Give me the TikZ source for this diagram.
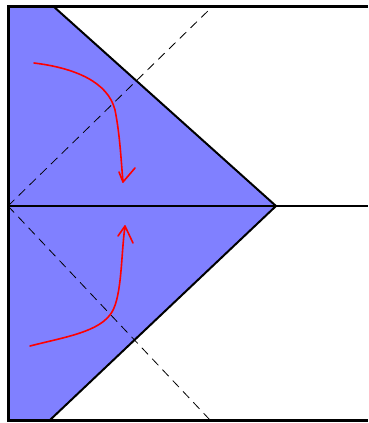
\documentclass[tikz,border=0pt]{standalone}
\begin{document}
\begin{tikzpicture}[x=1pt,y=-1pt,
  frame/.style={line width=3pt},
  edge/.style={line width=2pt},
  fold/.style={line width=0.8pt,dash pattern=on 9pt off 6pt},
  redarrow/.style={red,line width=1.6pt,line cap=round,line join=round}]
\definecolor{paper}{RGB}{128,128,255}
\useasboundingbox (0,0) rectangle (368,423);
\coordinate (tl) at (8,6);
\coordinate (tr) at (368,6);
\coordinate (bl) at (8,420);
\coordinate (br) at (368,420);
\coordinate (ml) at (8,206);
\coordinate (mr) at (368,206);
\coordinate (tc) at (53,6);
\coordinate (apex) at (276,206);
\coordinate (bc) at (50,420);
\coordinate (dt) at (213,6);
\coordinate (db) at (210,420);
\fill[paper] (tl) -- (tc) -- (apex) -- (bc) -- (bl) -- cycle;
\draw[fold] (ml) -- (dt);
\draw[fold] (ml) -- (db);
\draw[line width=1.4pt] (ml) -- (mr);
\draw[edge] (tc) -- (apex) -- (bc);
\draw[frame] (tr) -- (tl) -- (bl) -- (br);
% top red arrow
\coordinate (a1s) at (34,63);
\coordinate (a1t) at (123,182);
\draw[redarrow] (a1s) .. controls (75,68) and (108,82) .. (115,110)
  .. controls (120,135) and (121,160) .. (a1t) -- (135,168);
\draw[redarrow] (a1t) -- (119,172);
% bottom red arrow
\coordinate (a2s) at (30,346);
\coordinate (a2t) at (125,226);
\draw[redarrow] (a2s) .. controls (65,337) and (100,332) .. (112,312)
  .. controls (122,295) and (121,255) .. (a2t) -- (133,243);
\draw[redarrow] (a2t) -- (118,236);
\end{tikzpicture}
\end{document}
